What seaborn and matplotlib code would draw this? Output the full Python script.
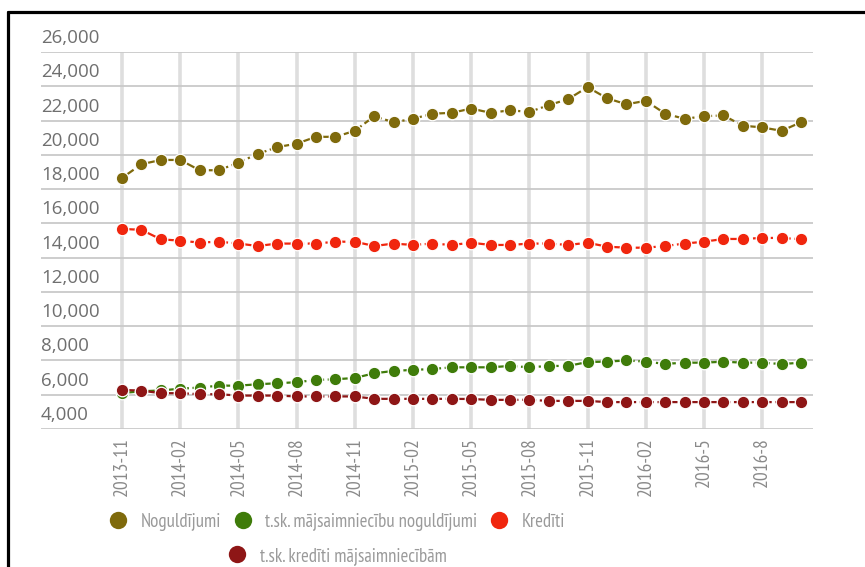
#%% IMPORT LIBRARIES
import matplotlib
matplotlib.use('Agg')
import matplotlib.pyplot as plt
import matplotlib.transforms as mtransforms
from matplotlib import font_manager
from matplotlib.lines import Line2D
import pandas as pd
import seaborn as sns

#%% DATA
months = ['2013-11', '2013-12',
          '2014-01', '2014-02', '2014-03', '2014-04', '2014-05', '2014-06',
          '2014-07', '2014-08', '2014-09', '2014-10', '2014-11', '2014-12',
          '2015-01', '2015-02', '2015-03', '2015-04', '2015-05', '2015-06',
          '2015-07', '2015-08', '2015-09', '2015-10', '2015-11', '2015-12',
          '2016-01', '2016-02', '2016-03', '2016-04', '2016-05', '2016-06',
          '2016-07', '2016-08', '2016-09', '2016-10']
tick_months = ['2013-11', '2014-02', '2014-05', '2014-08', '2014-11', '2015-02',
               '2015-05', '2015-08', '2015-11', '2016-02', '2016-05', '2016-08']
tick_labels = ['2013-11', '2014-02', '2014-05', '2014-08', '2014-11', '2015-02',
               '2015-05', '2015-08', '2015-11', '2016-02', '2016-5', '2016-8']

noguldijumi = [18650, 19450, 19700, 19700, 19100, 19100, 19550, 20050, 20450,
               20650, 21050, 21050, 21400, 22250, 21900, 22100, 22400, 22450,
               22700, 22450, 22600, 22500, 22900, 23250, 23950, 23300, 22950,
               23150, 22400, 22100, 22250, 22300, 21700, 21600, 21400, 21900]
maj_noguldijumi = [6100, 6200, 6250, 6350, 6420, 6530, 6530, 6610, 6670,
                   6730, 6860, 6900, 6980, 7250, 7390, 7450, 7500, 7600,
                   7600, 7600, 7680, 7600, 7680, 7680, 7910, 7930, 8000,
                   7930, 7800, 7870, 7870, 7930, 7870, 7870, 7790, 7870]
krediti = [15680, 15620, 15070, 14990, 14880, 14930, 14820, 14680, 14820,
           14820, 14820, 14930, 14930, 14680, 14820, 14740, 14820, 14740,
           14870, 14740, 14740, 14820, 14820, 14740, 14870, 14640, 14580,
           14580, 14680, 14820, 14930, 15090, 15090, 15150, 15150, 15070]
maj_krediti = [6280, 6240, 6090, 6090, 6030, 6030, 5950, 5950, 5950,
               5900, 5900, 5900, 5900, 5760, 5760, 5760, 5760, 5760,
               5750, 5700, 5700, 5700, 5640, 5640, 5640, 5570, 5570,
               5570, 5570, 5570, 5570, 5570, 5570, 5570, 5570, 5570]

series_names = ['Noguldījumi', 't.sk. mājsaimniecību noguldījumi',
                'Kredīti', 't.sk. kredīti mājsaimniecībām']
series_values = [noguldijumi, maj_noguldijumi, krediti, maj_krediti]
colors = ['#7f6a0c', '#3f7c0a', '#f0260e', '#8e1616']
y_ticks = list(range(4000, 26001, 2000))

#%% BUILD LONG TABLE
rows = []
for name, vals in zip(series_names, series_values):
    for i, (m, v) in enumerate(zip(months, vals)):
        rows.append({'idx': i, 'month': m, 'series': name, 'value': v})
df = pd.DataFrame(rows)

#%% CONFIGS
sns.set_style('white')
installed = {f.name for f in font_manager.fontManager.ttflist}
narrow_pick = [n for n in ['PT Sans Narrow', 'Roboto Condensed', 'Fira Sans Condensed',
                           'Archivo Narrow', 'Liberation Sans Narrow', 'Ubuntu Condensed',
                           'Open Sans Condensed', 'Encode Sans Condensed']
               if n in installed][:1]
narrow = narrow_pick + ['DejaVu Sans']
plt.rcParams['font.family'] = narrow

fig = plt.figure(figsize=(8.65, 5.67), dpi=100)
ax = fig.add_axes([41 / 865, 1 - 429 / 567, (813 - 41) / 865, (429 - 52) / 567])

#%% PLOT
sns.lineplot(data=df, x='idx', y='value', hue='series', hue_order=series_names,
             palette=dict(zip(series_names, colors)), marker='o', markersize=9,
             markeredgecolor='white', markeredgewidth=0.9, linestyle='-.',
             linewidth=1.6, legend=False, ax=ax, zorder=3)

px_month = (801 - 122) / 35
ax.set_xlim((41 - 122) / px_month, (813 - 122) / px_month)
ax.set_ylim(4000, 26000)

tick_pos = [months.index(t) for t in tick_months]
ax.set_xticks(tick_pos)
ax.set_xticklabels(tick_labels, rotation=90, fontsize=14, color='#8a8a8a',
                   family=narrow, va='top')
ax.tick_params(axis='x', length=0, pad=6)
ax.set_yticks(y_ticks)
ax.set_yticklabels([])
ax.tick_params(axis='y', length=0)
ax.set_xlabel('')
ax.set_ylabel('')

for s in ax.spines.values():
    s.set_visible(False)
ax.grid(False)
for y in y_ticks:
    ax.axhline(y, color='#c9c9c9', linewidth=1.3, zorder=1)
for x in tick_pos:
    ax.axvline(x, color='#dedede', linewidth=2.6, zorder=0.5)

# y labels sit above the gridlines, inside the plot
lab_trans = mtransforms.offset_copy(ax.get_yaxis_transform(), fig=fig, x=0, y=5, units='dots')
for y in y_ticks:
    ax.text(0, y, f'{y:,}', transform=lab_trans, ha='left', va='bottom',
            fontsize=13.5, color='#6f6f6f', family=['Open Sans', 'DejaVu Sans'])

#%% LEGEND
handles = [Line2D([], [], linestyle='none', marker='o', markersize=12.5,
                  color=c, markeredgewidth=0) for c in colors]
leg1 = fig.legend(handles[:3], series_names[:3], loc='center', ncol=3,
                  bbox_to_anchor=(337 / 865, 1 - 522 / 567), frameon=False,
                  handlelength=1.0, handletextpad=0.7, columnspacing=0.65,
                  prop={'family': narrow, 'size': 13.5}, labelcolor='#9a9a9a')
leg2 = fig.legend(handles[3:], series_names[3:], loc='center', ncol=1,
                  bbox_to_anchor=(337 / 865, 1 - 556 / 567), frameon=False,
                  handlelength=1.0, handletextpad=0.7,
                  prop={'family': narrow, 'size': 13.5}, labelcolor='#9a9a9a')

#%% FRAME
fig.add_artist(Line2D([8 / 865, 1], [1 - 12 / 567, 1 - 12 / 567], color='black',
                      linewidth=2.3, transform=fig.transFigure))
fig.add_artist(Line2D([8 / 865, 8 / 865], [0, 1 - 12 / 567], color='black',
                      linewidth=2.3, transform=fig.transFigure))

fig.savefig('out.png', dpi=100, facecolor='white')
